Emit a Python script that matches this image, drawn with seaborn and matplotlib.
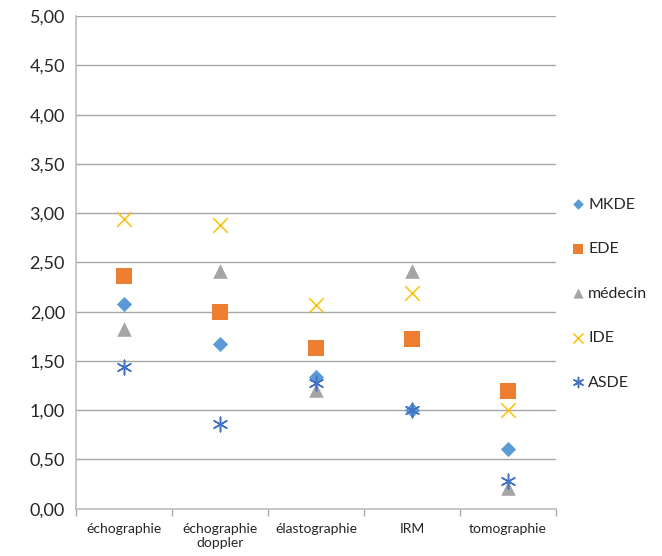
import numpy as np
import pandas as pd
import seaborn as sns
import matplotlib
matplotlib.use("Agg")
import matplotlib.pyplot as plt

categories = ["échographie", "échographie\ndoppler", "élastographie", "IRM", "tomographie"]
series = ["MKDE", "EDE", "médecin", "IDE", "ASDE"]
mkde = [2.08, 1.67, 1.34, 1.00, 0.61]
ede = [2.36, 2.00, 1.63, 1.72, 1.19]
medecin = [1.82, 2.41, 1.21, 2.41, 0.21]
ide = [2.94, 2.88, 2.07, 2.19, 1.00]
asde = [1.44, 0.86, 1.28, 1.00, 0.28]
yticks = [0, 0.5, 1.0, 1.5, 2.0, 2.5, 3.0, 3.5, 4.0, 4.5, 5.0]

colors = {"MKDE": "#5B9BD5", "EDE": "#ED7D31", "médecin": "#A5A5A5", "IDE": "#FFC000", "ASDE": "#4472C4"}
markers = {"MKDE": "D", "EDE": "s", "médecin": "^", "IDE": "x", "ASDE": (6, 2, 0)}
sizes = {"MKDE": 60, "EDE": 120, "médecin": 110, "IDE": 110, "ASDE": 110}

sns.set_theme(style="white")
plt.rcParams['font.family'] = ['Lato', 'DejaVu Sans']

fig = plt.figure(figsize=(6.62, 5.56), dpi=100)
ax = fig.add_axes([0.115, 0.085, 0.725, 0.886])

vals = {"MKDE": mkde, "EDE": ede, "médecin": medecin, "IDE": ide, "ASDE": asde}
for s in series:
    df = pd.DataFrame({"x": np.arange(len(categories)), "y": vals[s], "serie": s})
    kw = dict(linewidth=1.1) if s in ("IDE", "ASDE") else dict(linewidth=0)
    sns.scatterplot(data=df, x="x", y="y", color=colors[s], marker=markers[s],
                    s=sizes[s], ax=ax, label=s, zorder=3, **kw)

ax.set_xlim(-0.5, len(categories) - 0.5)
ax.set_ylim(0, 5)
ax.set_yticks(yticks)
ax.set_yticklabels([f"{v:.2f}".replace(".", ",") for v in yticks], fontsize=13)
ax.set_xticks(range(len(categories)))
ax.set_xticklabels(categories, fontsize=10)
ax.set_xticks(np.arange(-0.5, len(categories)), minor=True)
ax.tick_params(axis="x", which="major", length=0, pad=10)
ax.tick_params(axis="x", which="minor", length=5, color="#A6A6A6", direction="out", bottom=True)
ax.tick_params(axis="y", length=0, pad=8)
ax.set_xlabel("")
ax.set_ylabel("")
ax.yaxis.grid(True, color="#A6A6A6", linewidth=1)
ax.set_axisbelow(True)
for sp in ["top", "right"]:
    ax.spines[sp].set_visible(False)
ax.spines["left"].set_color("#BFBFBF")
ax.spines["bottom"].set_color("#BFBFBF")

handles, labels = ax.get_legend_handles_labels()
leg = ax.legend(handles, labels, loc="center left", bbox_to_anchor=(1.0, 0.437), frameon=False,
                fontsize=11.5, labelspacing=1.9, handletextpad=0.1, markerscale=0.7, handlelength=1.0)

fig.savefig("out.png", dpi=100)
